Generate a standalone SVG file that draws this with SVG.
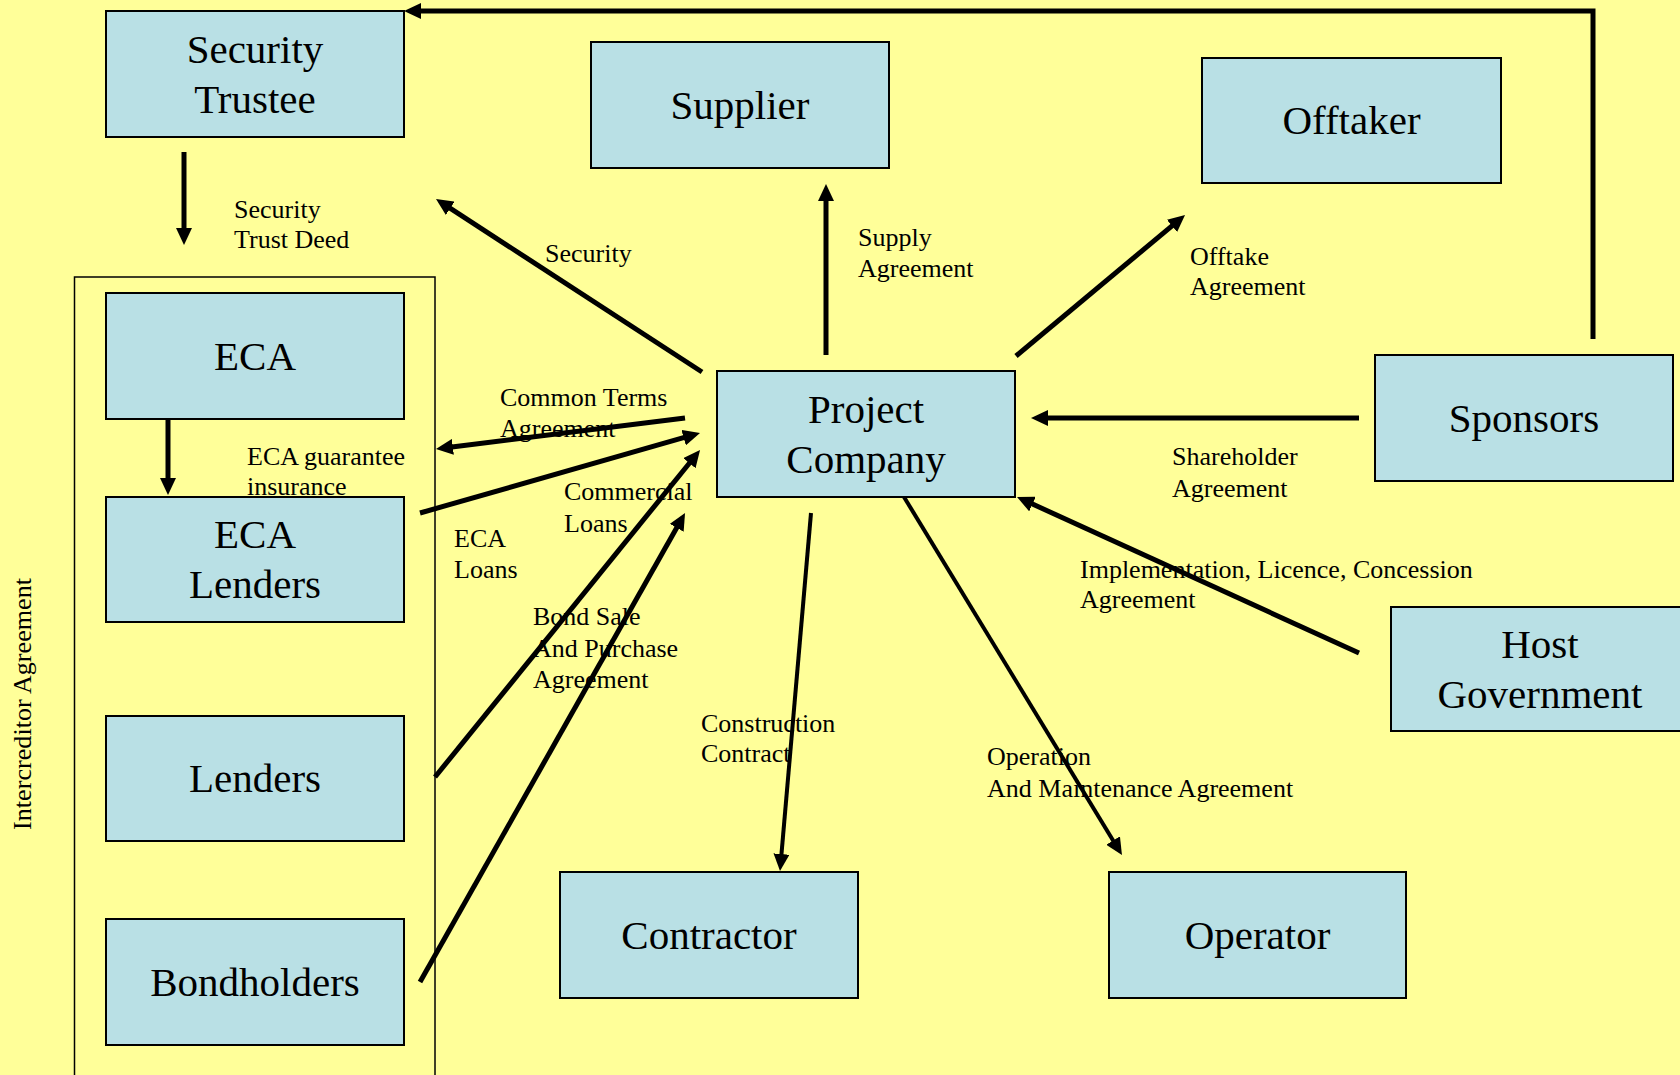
<svg xmlns="http://www.w3.org/2000/svg" width="1680" height="1075" viewBox="0 0 1680 1075">
<defs>
<marker id="ah" viewBox="0 0 17 16" refX="9" refY="8" markerWidth="17" markerHeight="16" markerUnits="userSpaceOnUse" orient="auto">
<path d="M0,0 L17,8 L0,16 z" fill="#000"/>
</marker>
<style>
.box{fill:#B9E0E5;stroke:#000;stroke-width:2}
.nt{font-family:"Liberation Serif","Times New Roman",serif;font-size:41px;fill:#000;text-anchor:middle}
.lb{font-family:"Liberation Serif","Times New Roman",serif;font-size:26px;fill:#000}
.ln{fill:none;stroke:#000;stroke-width:5;marker-end:url(#ah)}
.thin{stroke-width:4}
</style>
</defs>
<rect x="0" y="0" width="1680" height="1075" fill="#FFFF99"/>
<rect x="74.5" y="277" width="360.5" height="820" fill="none" stroke="#000" stroke-width="1.5"/>
<text class="lb" transform="translate(31,704) rotate(-90)" text-anchor="middle" font-size="24" textLength="252" lengthAdjust="spacing">Intercreditor Agreement</text>

<g id="connectors">
<path class="ln" d="M1593,339 L1593,11 L412,11"/>
<path class="ln" d="M184,152 L184,237"/>
<path class="ln" d="M702,372 L442.7,203.4"/>
<path class="ln" d="M826,355 L826,192"/>
<path class="ln" d="M1016,356 L1178.9,220.1"/>
<path class="ln" d="M1359,418 L1039,418"/>
<path class="ln" d="M1359,653 L1024.3,500.3"/>
<path class="ln thin" d="M811,513 L780.7,863"/>
<path class="ln thin" d="M904,497 L1117.8,848.2"/>
<path class="ln" d="M685,418 L443.9,448"/>
<path class="ln" d="M420,513 L692.3,435.2"/>
<path class="ln" d="M435,777 L695,456.2"/>
<path class="ln" d="M420,982 L681.1,520"/>
<path class="ln" d="M168,418 L168,487"/>
</g>

<g id="labels">
<text class="lb" x="234" y="218">Security</text>
<text class="lb" x="234" y="248">Trust Deed</text>
<text class="lb" x="545" y="262">Security</text>
<text class="lb" x="858" y="246">Supply</text>
<text class="lb" x="858" y="277">Agreement</text>
<text class="lb" x="1190" y="265">Offtake</text>
<text class="lb" x="1190" y="295">Agreement</text>
<text class="lb" x="500" y="406">Common Terms</text>
<text class="lb" x="500" y="437">Agreement</text>
<text class="lb" x="247" y="465">ECA guarantee</text>
<text class="lb" x="247" y="495">insurance</text>
<text class="lb" x="564" y="500">Commercial</text>
<text class="lb" x="564" y="532">Loans</text>
<text class="lb" x="454" y="547">ECA</text>
<text class="lb" x="454" y="578">Loans</text>
<text class="lb" x="533" y="625">Bond Sale</text>
<text class="lb" x="533" y="657">And Purchase</text>
<text class="lb" x="533" y="688">Agreement</text>
<text class="lb" x="1172" y="465">Shareholder</text>
<text class="lb" x="1172" y="497">Agreement</text>
<text class="lb" x="1080" y="578">Implementation, Licence, Concession</text>
<text class="lb" x="1080" y="608">Agreement</text>
<text class="lb" x="701" y="732">Construction</text>
<text class="lb" x="701" y="762">Contract</text>
<text class="lb" x="987" y="765">Operation</text>
<text class="lb" x="987" y="797">And Maintenance Agreement</text>
</g>

<g id="security-trustee"><rect class="box" x="106" y="11" width="298" height="126"/><text class="nt" x="255" y="63">Security</text><text class="nt" x="255" y="113">Trustee</text></g>
<g id="supplier"><rect class="box" x="591" y="42" width="298" height="126"/><text class="nt" x="740" y="119">Supplier</text></g>
<g id="offtaker"><rect class="box" x="1202" y="58" width="299" height="125"/><text class="nt" x="1351.5" y="134">Offtaker</text></g>
<g id="eca"><rect class="box" x="106" y="293" width="298" height="126"/><text class="nt" x="255" y="370">ECA</text></g>
<g id="eca-lenders"><rect class="box" x="106" y="497" width="298" height="125"/><text class="nt" x="255" y="548">ECA</text><text class="nt" x="255" y="598">Lenders</text></g>
<g id="lenders"><rect class="box" x="106" y="716" width="298" height="125"/><text class="nt" x="255" y="792">Lenders</text></g>
<g id="bondholders"><rect class="box" x="106" y="919" width="298" height="126"/><text class="nt" x="255" y="996">Bondholders</text></g>
<g id="project-company"><rect class="box" x="717" y="371" width="298" height="126"/><text class="nt" x="866" y="423">Project</text><text class="nt" x="866" y="473">Company</text></g>
<g id="sponsors"><rect class="box" x="1375" y="355" width="298" height="126"/><text class="nt" x="1524" y="432">Sponsors</text></g>
<g id="host-government"><rect class="box" x="1391" y="607" width="298" height="124"/><text class="nt" x="1540" y="658">Host</text><text class="nt" x="1540" y="708">Government</text></g>
<g id="contractor"><rect class="box" x="560" y="872" width="298" height="126"/><text class="nt" x="709" y="949">Contractor</text></g>
<g id="operator"><rect class="box" x="1109" y="872" width="297" height="126"/><text class="nt" x="1257.5" y="949">Operator</text></g>
</svg>
